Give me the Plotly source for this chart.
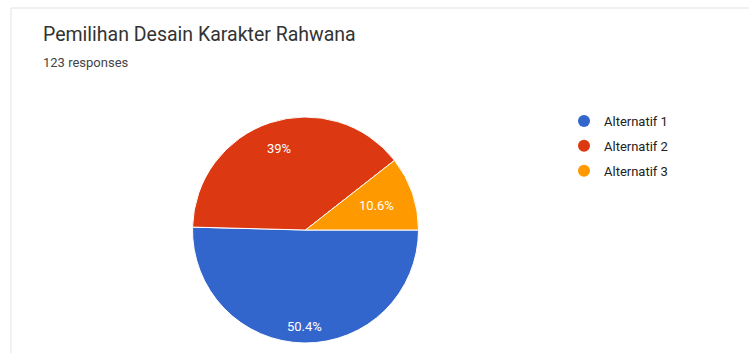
import math
import plotly.graph_objects as go

title = "Pemilihan Desain Karakter Rahwana"
subtitle = "123 responses"
labels = ["Alternatif 1", "Alternatif 2", "Alternatif 3"]
counts = [62, 48, 13]
colors = ["#3366cc", "#dc3912", "#ff9900"]
label_radius_frac = [0.85, 0.76, 0.66]  # style: how far out each slice label sits

total = sum(counts)
pct_text = [f"{round(c / total * 100, 1):g}%" for c in counts]

W, H = 749, 353
cx, cy, d = 305.5, 230, 226
start_angle = 90  # degrees clockwise from 12 o'clock

fig = go.Figure()
fig.add_trace(go.Pie(
    labels=labels, values=counts, textinfo="none",
    marker=dict(colors=colors, line=dict(color="white", width=1)),
    sort=False, direction="clockwise", rotation=start_angle,
    showlegend=False, hoverinfo="label+percent",
    domain=dict(x=[(cx - d / 2) / W, (cx + d / 2) / W],
                y=[(H - cy - d / 2) / H, (H - cy + d / 2) / H]),
))

# slice labels at the slice mid-angles
cum = 0
for c, t, f in zip(counts, pct_text, label_radius_frac):
    mid = math.radians(start_angle + 360 * (cum + c / 2) / total)
    cum += c
    px = cx + (d / 2) * f * math.sin(mid)
    py = cy - (d / 2) * f * math.cos(mid)
    fig.add_annotation(text=t, xref="paper", yref="paper",
                       x=px / W, y=(H - py) / H, xanchor="center", yanchor="middle",
                       showarrow=False,
                       font=dict(family="Roboto", size=13, color="white"))

for i, (lab, col) in enumerate(zip(labels, colors)):
    fig.add_trace(go.Scatter(
        x=[None], y=[None], mode="markers", name=lab,
        legendgroup=f"g{i}",
        marker=dict(color=col, size=12, symbol="circle"),
    ))

fig.add_shape(type="rect", xref="paper", yref="paper",
              x0=11 / W, x1=1.05, y0=-0.05, y1=(H - 8) / H,
              line=dict(color="#e3e3e3", width=1), fillcolor="rgba(0,0,0,0)",
              layer="below")

fig.add_annotation(text=title, xref="paper", yref="paper",
                   x=41 / W, y=(H - 35) / H, xanchor="left", yanchor="middle",
                   showarrow=False,
                   font=dict(family="Roboto", size=19.5, color="#333333"))
fig.add_annotation(text=subtitle, xref="paper", yref="paper",
                   x=41 / W, y=(H - 62) / H, xanchor="left", yanchor="middle",
                   showarrow=False,
                   font=dict(family="Roboto", size=13, color="#444444"))

fig.update_layout(
    width=W, height=H, margin=dict(l=0, r=0, t=0, b=0),
    paper_bgcolor="white", plot_bgcolor="white",
    xaxis=dict(visible=False), yaxis=dict(visible=False),
    legend=dict(x=564 / W, y=(H - 106) / H, xanchor="left", yanchor="top",
                font=dict(family="Roboto", size=13, color="#222222"),
                tracegroupgap=5, itemwidth=30, bgcolor="rgba(0,0,0,0)"),
)

fig.write_html("out.html")
